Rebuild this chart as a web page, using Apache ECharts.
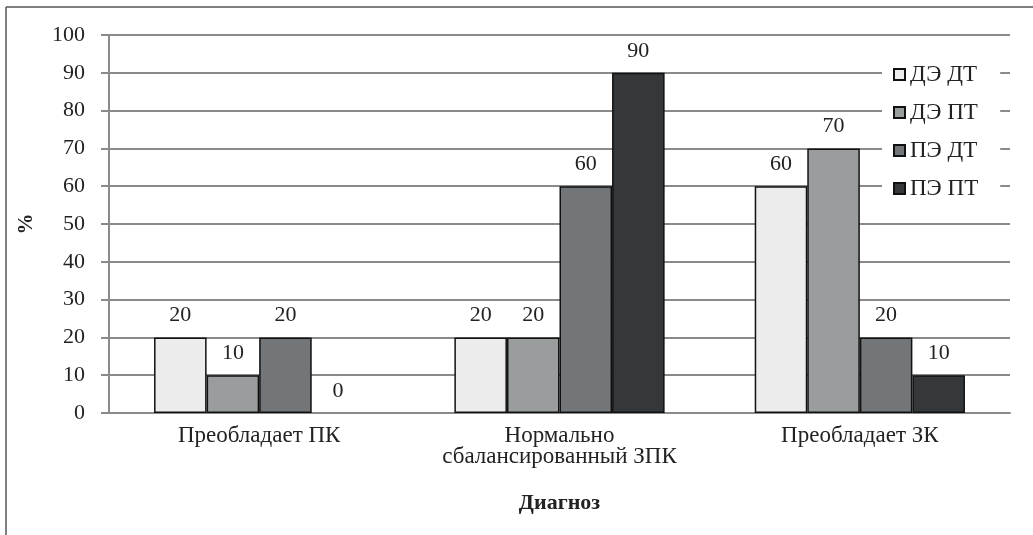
<!DOCTYPE html>
<html>
<head>
<meta charset="utf-8">
<script src="https://cdn.jsdelivr.net/npm/echarts@6/dist/echarts.min.js"></script>
<style>
  html, body { margin: 0; padding: 0; background: #fff; }
  #chart { width: 1033px; height: 535px; }
</style>
</head>
<body>
<div id="chart"></div>
<script>
// Diagnosis groups on the x axis
const categories = ['Преобладает ПК', 'Нормально\nсбалансированный ЗПК', 'Преобладает ЗК'];

// Share of patients (%) per group
const seriesNames = ['ДЭ ДТ', 'ДЭ ПТ', 'ПЭ ДТ', 'ПЭ ПТ'];
const deDt = [20, 20, 60];
const dePt = [10, 20, 70];
const peDt = [20, 60, 20];
const pePt = [0, 90, 10];

const yTicks = [0, 10, 20, 30, 40, 50, 60, 70, 80, 90, 100];

const fills = ['#ececec', '#9a9d9e', '#737679', '#35383b'];
const FONT = '"Liberation Serif", "DejaVu Serif", serif';

const values = [deDt, dePt, peDt, pePt];

// a zero-height bar gets no outline, only its label
const toItems = arr => arr.map(v => (v === 0 ? { value: v, itemStyle: { borderWidth: 0 } } : v));

const chart = echarts.init(document.getElementById('chart'));

chart.setOption({
  backgroundColor: '#fff',
  animation: false,
  textStyle: { fontFamily: FONT, color: '#222' },
  grid: { left: 109, right: 23, top: 35, bottom: 122, containLabel: false },
  legend: {
    orient: 'vertical',
    left: 882,
    top: 58,
    padding: [5, 22, 5, 11],
    backgroundColor: '#fff',
    itemWidth: 11,
    itemHeight: 11,
    itemGap: 15,
    icon: 'rect',
    data: seriesNames,
    textStyle: { fontFamily: FONT, fontSize: 23, color: '#222', lineHeight: 23 }
  },
  xAxis: {
    type: 'category',
    data: categories,
    name: 'Диагноз',
    nameLocation: 'middle',
    nameGap: 79,
    nameTextStyle: { fontFamily: FONT, fontSize: 22, fontWeight: 'bold', color: '#222' },
    axisLine: { lineStyle: { color: '#8a8a8a', width: 2 } },
    axisTick: { show: false },
    axisLabel: { interval: 0, fontFamily: FONT, fontSize: 23, color: '#222', lineHeight: 21, margin: 12 }
  },
  yAxis: {
    type: 'value',
    min: 0,
    max: 100,
    interval: 10,
    name: '%',
    nameLocation: 'middle',
    nameRotate: 90,
    nameGap: 72,
    nameTextStyle: { fontFamily: FONT, fontSize: 21, fontWeight: 'bold', color: '#222' },
    axisLine: { show: true, lineStyle: { color: '#8a8a8a', width: 2 } },
    axisTick: { show: true, inside: false, length: 8, lineStyle: { color: '#8a8a8a', width: 2 } },
    splitLine: { show: true, lineStyle: { color: '#8a8a8a', width: 2 } },
    axisLabel: {
      fontFamily: FONT, fontSize: 22, color: '#222', margin: 24,
      formatter: v => (yTicks.indexOf(v) >= 0 ? String(v) : '')
    }
  },
  series: seriesNames.map((name, i) => ({
    name: name,
    type: 'bar',
    data: toItems(values[i]),
    barGap: '0%',
    barCategoryGap: '30%',
    itemStyle: { color: fills[i], borderColor: '#111', borderWidth: 1.5 },
    label: {
      show: true,
      position: 'top',
      distance: 11,
      fontFamily: FONT,
      fontSize: 22,
      color: '#222'
    }
  })),
  graphic: [
    { type: 'line', shape: { x1: 6, y1: 7, x2: 1033, y2: 7 }, style: { stroke: '#555', lineWidth: 1.5 } },
    { type: 'line', shape: { x1: 6, y1: 7, x2: 6, y2: 535 }, style: { stroke: '#555', lineWidth: 1.5 } }
  ]
});
</script>
</body>
</html>
